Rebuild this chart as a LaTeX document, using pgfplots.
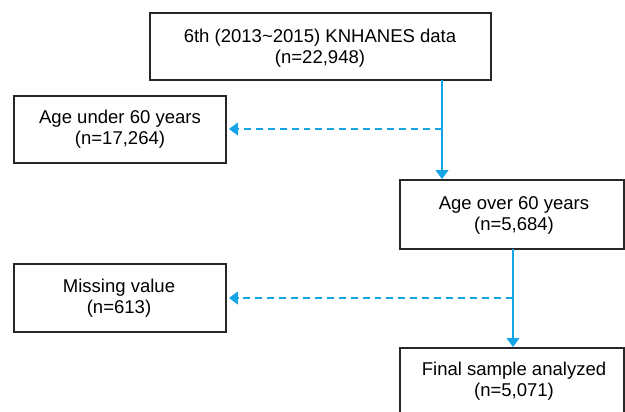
\documentclass[border=0pt]{standalone}
\usepackage{fontspec}
\setmainfont{Liberation Sans}
\usepackage{pgfplots}
\pgfplotsset{compat=1.18}
\usetikzlibrary{arrows.meta}
\definecolor{flowcyan}{RGB}{20,165,230}
\definecolor{boxline}{RGB}{40,40,40}
\begin{document}
\begin{tikzpicture}
\begin{axis}[
  scale only axis, width=625bp, height=412bp,
  xmin=0, xmax=625, ymin=0, ymax=412, y dir=reverse,
  hide axis, clip=true,
  every axis plot/.append style={line join=miter},
]
\path (rel axis cs:0,0) (rel axis cs:1,1);
% boxes
\addplot[draw=boxline, line width=1.1pt, mark=none] coordinates {(150,13) (491,13) (491,80) (150,80) (150,13) (491,13)};
\addplot[draw=boxline, line width=1.1pt, mark=none] coordinates {(14,96) (226,96) (226,163) (14,163) (14,96) (226,96)};
\addplot[draw=boxline, line width=1.1pt, mark=none] coordinates {(400,180) (624,180) (624,249) (400,249) (400,180) (624,180)};
\addplot[draw=boxline, line width=1.1pt, mark=none] coordinates {(14,264) (226,264) (226,332) (14,332) (14,264) (226,264)};
\addplot[draw=boxline, line width=1.1pt, mark=none] coordinates {(400,430) (400,348) (624,348) (624,430)};
% arrows
\addplot[draw=flowcyan, line width=1.2pt, mark=none, -{Triangle[width=13pt,length=9pt]}] coordinates {(442,80) (442,179)};
\addplot[draw=flowcyan, line width=1.2pt, mark=none, dash pattern=on 7pt off 5pt, -{Triangle[width=13pt,length=9pt]}] coordinates {(442,129) (229,129)};
\addplot[draw=flowcyan, line width=1.2pt, mark=none, -{Triangle[width=13pt,length=9pt]}] coordinates {(513,249) (513,347)};
\addplot[draw=flowcyan, line width=1.2pt, mark=none, dash pattern=on 7pt off 5pt, -{Triangle[width=13pt,length=9pt]}] coordinates {(513,298) (229,298)};
% texts
\tikzset{lbl/.style={align=center, font=\fontsize{18.6}{21}\selectfont, inner sep=0pt}}
\node[lbl] at (axis cs:320,48) {6th (2013\textasciitilde 2015) KNHANES data\\(n=22,948)};
\node[lbl] at (axis cs:120,129) {Age under 60 years\\(n=17,264)};
\node[lbl] at (axis cs:514,215) {Age over 60 years\\(n=5,684)};
\node[lbl] at (axis cs:119,298) {Missing value\\(n=613)};
\node[lbl] at (axis cs:514,381) {Final sample analyzed\\(n=5,071)};
\end{axis}
\end{tikzpicture}
\end{document}
